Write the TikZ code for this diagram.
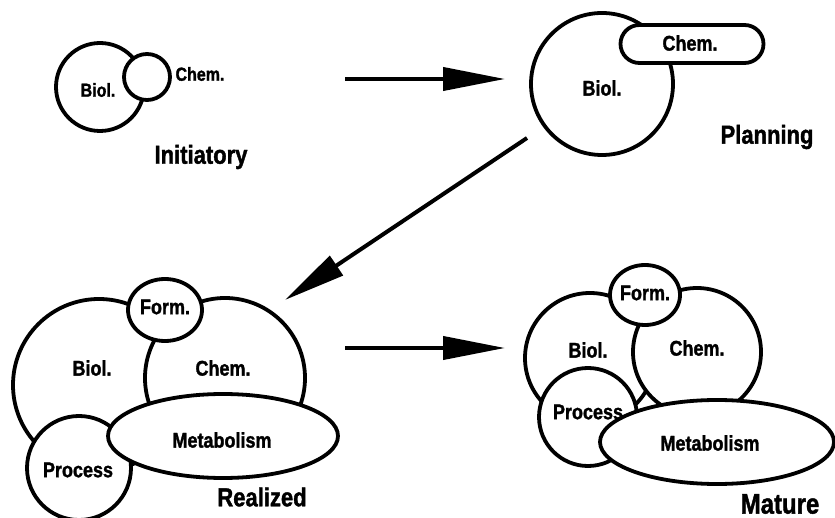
\documentclass[tikz,border=0pt]{standalone}
\usepackage{fontspec}
\usepackage{graphicx}
\setmainfont[BoldFeatures={FakeBold=1.6}]{Liberation Sans}
\usetikzlibrary{shapes.geometric,arrows.meta}

% slightly tall, heavy lettering
\newcommand{\tallbf}[1]{\scalebox{1}[1.18]{\bfseries #1}}

\begin{document}
\begin{tikzpicture}[x=1pt,y=-1pt,
  ring/.style={circle,draw,line width=3.8pt,fill=white,inner sep=0pt,minimum size=#1},
  oval/.style={ellipse,draw,line width=3.8pt,fill=white,inner sep=0pt},
  pill/.style={rectangle,draw,line width=3.8pt,fill=white,inner sep=0pt,rounded corners=19pt},
  lbl/.style={inner sep=0pt,font=\fontsize{18}{18}\selectfont},
  lblsmall/.style={inner sep=0pt,font=\fontsize{16}{16}\selectfont},
  stage/.style={inner sep=0pt,font=\fontsize{22}{22}\selectfont},
  flow/.style={line width=4pt,-{Triangle[length=62pt,width=23pt]}}]

\useasboundingbox (0,0) rectangle (835,518);

% ---- Initiatory ----
\node[ring=88pt] (ib) at (100,87) {};
\node[ring=46pt] (ic) at (147,77) {};
\node[lblsmall] (ibt) at (98,90) {\tallbf{Biol.}};
\node[lblsmall] (ict) at (200,74) {\tallbf{Chem.}};
\node[stage] (it) at (201,157) {\tallbf{Initiatory}};

% ---- Planning ----
\node[ring=142pt] (pb) at (602,84) {};
\node[pill,minimum width=143pt,minimum height=38pt] (pc) at (692,44) {};
\node[lbl] (pbt) at (602,88) {\tallbf{Biol.}};
\node[lbl] (pct) at (690,43) {\tallbf{Chem.}};
\node[stage] (pt) at (767,137) {\tallbf{Planning}};

% ---- Realized ----
\node[ring=172pt] (rb) at (99,385) {};
\node[ring=160pt] (rc) at (225,378) {};
\node[oval,minimum width=74pt,minimum height=62pt] (rf) at (165,310) {};
\node[ring=104pt] (rp) at (79,468) {};
\node[oval,minimum width=230pt,minimum height=84pt] (rm) at (223,436) {};
\node[lbl] (rbt) at (92,368) {\tallbf{Biol.}};
\node[lbl] (rct) at (223,368) {\tallbf{Chem.}};
\node[lbl] (rft) at (165,307) {\tallbf{Form.}};
\node[lbl] (rpt) at (78,470) {\tallbf{Process}};
\node[lbl] (rmt) at (222,440) {\tallbf{Metabolism}};
\node[stage] (rt) at (262,497) {\tallbf{Realized}};

% ---- Mature ----
\node[ring=130pt] (mb) at (590,358) {};
\node[ring=128pt] (mc) at (697,352) {};
\node[oval,minimum width=70pt,minimum height=60pt] (mf) at (645,295) {};
\node[ring=98pt] (mp) at (588,417) {};
\node[oval,minimum width=234pt,minimum height=84pt] (mm) at (717,442) {};
\node[lbl] (mbt) at (588,350) {\tallbf{Biol.}};
\node[lbl] (mct) at (697,348) {\tallbf{Chem.}};
\node[lbl] (mft) at (645,293) {\tallbf{Form.}};
\node[lbl] (mpt) at (588,412) {\tallbf{Process}};
\node[lbl] (mmt) at (710,443) {\tallbf{Metabolism}};
\node[stage,font=\fontsize{24}{24}\selectfont] (mt) at (780,504) {\tallbf{Mature}};

% ---- stage transitions ----
\coordinate (a1s) at (345,79);
\coordinate (a1e) at (505,79);
\coordinate (a2s) at (527,138);
\coordinate (a2e) at (285,300);
\coordinate (a3s) at (345,348);
\coordinate (a3e) at (505,348);
\draw[flow] (a1s) -- (a1e);
\draw[flow] (a2s) -- (a2e);
\draw[flow] (a3s) -- (a3e);
\end{tikzpicture}
\end{document}
